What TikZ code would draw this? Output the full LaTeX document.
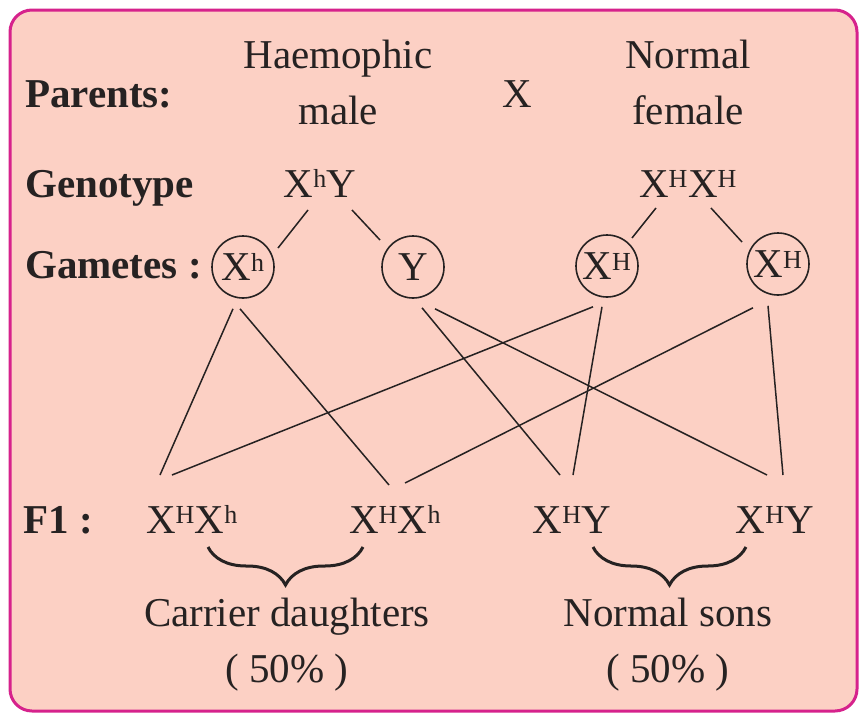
\documentclass[tikz,border=0pt]{standalone}
\usepackage{fontspec}
\setmainfont{Liberation Serif}
\usetikzlibrary{calc,decorations.pathreplacing}
\definecolor{bg}{RGB}{252,208,196}
\definecolor{rim}{RGB}{214,34,140}
\definecolor{ink}{RGB}{38,34,34}
\newcommand{\bigtxt}{\fontsize{41}{56}\selectfont}
\newcommand{\xH}{X\textsuperscript{\fontsize{26}{26}\selectfont H}}
\newcommand{\xh}{X\textsuperscript{\fontsize{26}{26}\selectfont h}}
\tikzset{lbl/.style={anchor=base west,font=\bigtxt\bfseries},txt/.style={anchor=base},
gcirc/.style={draw=ink,circle,line width=1.6pt,minimum size=62pt},ln/.style={ink,line width=1.5pt},
brc/.style={ink,line width=3pt,decorate,decoration={brace,mirror,amplitude=38pt}}}

\begin{document}
\begin{tikzpicture}[x=1pt,y=-1pt,every node/.style={font=\bigtxt,text=ink,inner sep=0pt}]
\fill[white](0,0)rectangle(865,720);
\useasboundingbox(0,0)rectangle(865,720);
\draw[rim,fill=bg,line width=3pt,rounded corners=22pt](10,10)rectangle(857,711);
% parents
\node[lbl](par)at(25,107){Parents:};
\node[align=center,anchor=north](pm)at(338,40){Haemophic\\male};
\node[txt](cross)at(517,107){X};
\node[align=center,anchor=north](pf)at(688,40){Normal\\female};
% genotype
\node[lbl](gen)at(25,197){Genotype};
\node[txt](gm)at(320,197){\xh Y};\node[txt](gf)at(688,197){\xH\xH};
% gametes
\node[lbl](gam)at(25,278){Gametes :};
\node[gcirc](c1)at(243,267){\xh};\node[gcirc](c2)at(413,267){Y};
\node[gcirc](c3)at(607,266){\xH};\node[gcirc](c4)at(778,264){\xH};
\foreach\p/\px/\py/\c/\cx/\cy in{gm/-12/13/c1/35/-19,gm/32/13/c2/-33/-27,gf/-32/11/c3/25/-28,gf/23/11/c4/-36/-22}
  \draw[ln]($(\p.base)+(\px,\py)$)--($(\c)+(\cx,\cy)$);
% F1
\node[lbl](f1)at(23,533){F1 :};
\node[txt](f1a)at(192,533){\xH\xh};\node[txt](f1b)at(395,533){\xH\xh};
\node[txt](f1c)at(572,533){\xH Y};\node[txt](f1d)at(775,533){\xH Y};
\foreach\g/\gx/\gy/\f/\fx/\fy in{c1/-10/10/f1a/-32/-58,c1/-3/10/f1b/-6/-48,c2/9/9/f1c/-12/-58,c2/22/10/f1d/-8/-58,
  c3/-14/9/f1a/-20/-58,c3/-5/9/f1c/1/-58,c4/-25/12/f1b/10/-50,c4/-10/10/f1d/8/-58}
  \draw[ln]($(\g.south)+(\gx,\gy)$)--($(\f.base)+(\fx,\fy)$);
\draw[brc](208,547)--(363,547);\draw[brc](593,547)--(746,547);
\node[align=center,anchor=north](cd)at(287,598){Carrier daughters\\( 50\% )};
\node[align=center,anchor=north](ns)at(668,598){Normal sons\\( 50\% )};
\end{tikzpicture}
\end{document}
